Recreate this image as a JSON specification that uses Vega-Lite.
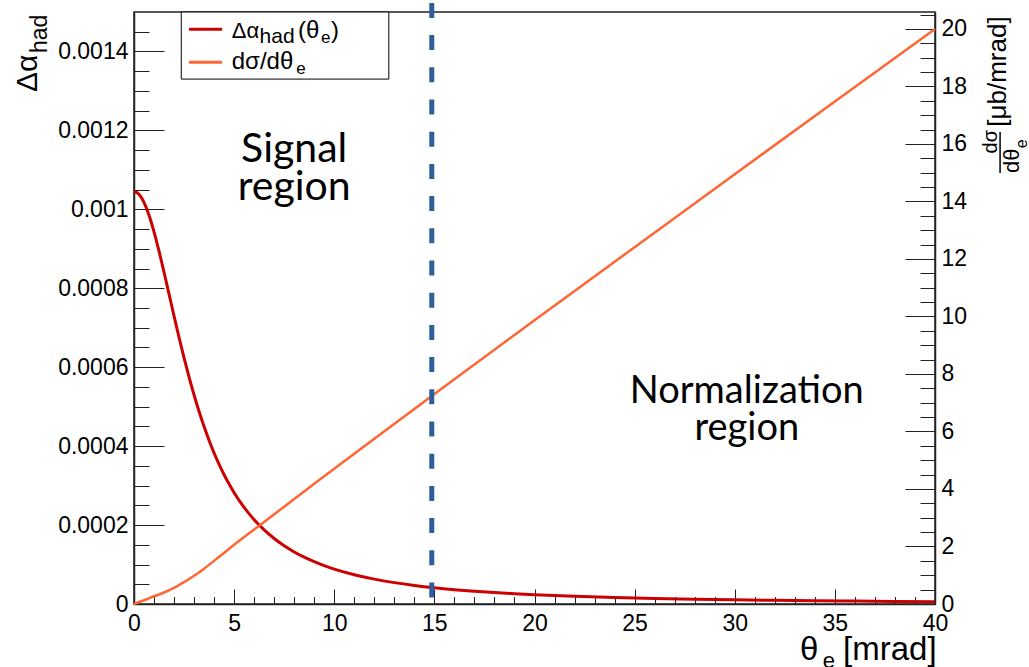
{
  "$schema": "https://vega.github.io/schema/vega-lite/v6.json",
  "width": 801,
  "height": 592,
  "autosize": {"type": "none"},
  "padding": {"left": 134, "top": 12, "right": 94, "bottom": 63},
  "background": "white",
  "config": {
    "view": {"stroke": "#222", "strokeWidth": 1.5},
    "font": "Liberation Sans",
    "axis": {"grid": false, "labelFont": "Liberation Sans", "labelFontSize": 23, "labelColor": "#000", "domainColor": "#222", "domainWidth": 1.5, "tickColor": "#222", "tickWidth": 1, "labelFlush": false, "labelOverlap": false}
  },
  "datasets": {
    "alpha": [
      {"theta": 0, "dalpha": 0.0010451}, {"theta": 0.25, "dalpha": 0.001038}, {"theta": 0.5, "dalpha": 0.0010175},
      {"theta": 0.75, "dalpha": 0.0009851}, {"theta": 1.0, "dalpha": 0.0009431}, {"theta": 1.25, "dalpha": 0.000894},
      {"theta": 1.5, "dalpha": 0.0008405}, {"theta": 1.75, "dalpha": 0.000785}, {"theta": 2.0, "dalpha": 0.0007295},
      {"theta": 2.25, "dalpha": 0.0006753}, {"theta": 2.5, "dalpha": 0.0006235}, {"theta": 2.75, "dalpha": 0.0005748},
      {"theta": 3.0, "dalpha": 0.0005296}, {"theta": 3.25, "dalpha": 0.0004878}, {"theta": 3.5, "dalpha": 0.0004495},
      {"theta": 3.75, "dalpha": 0.0004145}, {"theta": 4.0, "dalpha": 0.0003827}, {"theta": 4.25, "dalpha": 0.0003538},
      {"theta": 4.5, "dalpha": 0.0003276}, {"theta": 4.75, "dalpha": 0.0003038}, {"theta": 5.0, "dalpha": 0.0002821},
      {"theta": 5.5, "dalpha": 0.0002446}, {"theta": 6.0, "dalpha": 0.0002135}, {"theta": 6.5, "dalpha": 0.0001876},
      {"theta": 7.0, "dalpha": 0.0001659}, {"theta": 7.5, "dalpha": 0.0001475}, {"theta": 8.0, "dalpha": 0.0001319},
      {"theta": 8.5, "dalpha": 0.0001186}, {"theta": 9.0, "dalpha": 0.0001071}, {"theta": 9.5, "dalpha": 0.0000971},
      {"theta": 10, "dalpha": 0.0000884}, {"theta": 11, "dalpha": 0.0000742}, {"theta": 12, "dalpha": 0.000063},
      {"theta": 13, "dalpha": 0.0000542}, {"theta": 14, "dalpha": 0.0000471}, {"theta": 15, "dalpha": 0.0000412},
      {"theta": 16, "dalpha": 0.0000364}, {"theta": 17, "dalpha": 0.0000324}, {"theta": 18, "dalpha": 0.000029},
      {"theta": 19, "dalpha": 0.0000261}, {"theta": 20, "dalpha": 0.0000236}, {"theta": 22, "dalpha": 0.0000196},
      {"theta": 24, "dalpha": 0.0000165}, {"theta": 26, "dalpha": 0.0000141}, {"theta": 28, "dalpha": 0.0000122},
      {"theta": 30, "dalpha": 0.0000106}, {"theta": 32, "dalpha": 0.0000094}, {"theta": 34, "dalpha": 0.0000083},
      {"theta": 36, "dalpha": 0.0000074}, {"theta": 38, "dalpha": 0.0000066}, {"theta": 40, "dalpha": 0.000006}
    ],
    "sigma": [
      {"theta": 0, "dsigma": 0}, {"theta": 0.5, "dsigma": 0.13}, {"theta": 1.0, "dsigma": 0.27},
      {"theta": 1.5, "dsigma": 0.4}, {"theta": 2.0, "dsigma": 0.56}, {"theta": 2.5, "dsigma": 0.76},
      {"theta": 3.0, "dsigma": 0.98}, {"theta": 3.5, "dsigma": 1.23}, {"theta": 4.0, "dsigma": 1.5},
      {"theta": 4.5, "dsigma": 1.78}, {"theta": 5.0, "dsigma": 2.06}, {"theta": 6.0, "dsigma": 2.59},
      {"theta": 7.0, "dsigma": 3.12}, {"theta": 8.0, "dsigma": 3.65}, {"theta": 9.0, "dsigma": 4.18},
      {"theta": 10, "dsigma": 4.7}, {"theta": 12, "dsigma": 5.75}, {"theta": 15, "dsigma": 7.3},
      {"theta": 20, "dsigma": 9.87}, {"theta": 25, "dsigma": 12.41}, {"theta": 30, "dsigma": 14.95},
      {"theta": 35, "dsigma": 17.48}, {"theta": 40, "dsigma": 20.0}
    ]
  },
  "resolve": {"scale": {"y": "independent"}, "axis": {"x": "independent", "y": "independent"}},
  "layer": [
    {
      "data": {"name": "alpha"},
      "mark": {"type": "line", "color": "#cc0000", "strokeWidth": 3, "interpolate": "monotone"},
      "encoding": {
        "x": {"field": "theta", "type": "quantitative", "scale": {"domain": [0, 40], "nice": false, "zero": false},
          "axis": {"orient": "bottom", "values": [0, 5, 10, 15, 20, 25, 30, 35, 40], "tickSize": -15, "labelPadding": 23, "title": null}},
        "y": {"field": "dalpha", "type": "quantitative", "scale": {"domain": [0, 0.0015], "nice": false},
          "axis": {"orient": "left", "values": [0, 0.0002, 0.0004, 0.0006, 0.0008, 0.001, 0.0012, 0.0014], "tickSize": -30, "labelPadding": 36, "title": null,
            "labelExpr": "datum.value == 0 ? '0' : format(datum.value, '.4~f')"}}
      }
    },
    {
      "data": {"name": "alpha"},
      "mark": {"type": "line", "strokeOpacity": 0},
      "encoding": {
        "x": {"field": "theta", "type": "quantitative",
          "axis": {"orient": "bottom", "values": [0,1,2,3,4,5,6,7,8,9,10,11,12,13,14,15,16,17,18,19,20,21,22,23,24,25,26,27,28,29,30,31,32,33,34,35,36,37,38,39,40], "tickSize": -7.5, "labels": false, "domain": false, "title": null}},
        "y": {"field": "dalpha", "type": "quantitative", "scale": {"domain": [0, 0.0015], "nice": false},
          "axis": {"orient": "left", "values": [0,0.00005,0.0001,0.00015,0.0002,0.00025,0.0003,0.00035,0.0004,0.00045,0.0005,0.00055,0.0006,0.00065,0.0007,0.00075,0.0008,0.00085,0.0009,0.00095,0.001,0.00105,0.0011,0.00115,0.0012,0.00125,0.0013,0.00135,0.0014,0.00145], "tickSize": -15, "labels": false, "domain": false, "title": null}}
      }
    },
    {
      "data": {"name": "sigma"},
      "mark": {"type": "line", "color": "#ff6633", "strokeWidth": 2.5, "interpolate": "monotone"},
      "encoding": {
        "x": {"field": "theta", "type": "quantitative", "axis": null},
        "y": {"field": "dsigma", "type": "quantitative", "scale": {"domain": [0, 20.59], "nice": false},
          "axis": {"orient": "right", "values": [0, 2, 4, 6, 8, 10, 12, 14, 16, 18, 20], "tickSize": -30, "labelPadding": 36, "title": null}}
      }
    },
    {
      "data": {"name": "sigma"},
      "mark": {"type": "line", "strokeOpacity": 0},
      "encoding": {
        "x": {"field": "theta", "type": "quantitative", "axis": null},
        "y": {"field": "dsigma", "type": "quantitative", "scale": {"domain": [0, 20.59], "nice": false},
          "axis": {"orient": "right", "values": [0,0.5,1,1.5,2,2.5,3,3.5,4,4.5,5,5.5,6,6.5,7,7.5,8,8.5,9,9.5,10,10.5,11,11.5,12,12.5,13,13.5,14,14.5,15,15.5,16,16.5,17,17.5,18,18.5,19,19.5,20,20.5], "tickSize": -15, "labels": false, "domain": false, "title": null}}
      }
    },
    {
      "data": {"values": [{}]},
      "mark": {"type": "rule", "color": "#2f5f9a", "strokeWidth": 5, "strokeDash": [15, 17.2]},
      "encoding": {
        "x": {"datum": 14.87, "type": "quantitative", "axis": null},
        "y": {"datum": 0.001523, "type": "quantitative", "scale": {"domain": [0, 0.0015], "nice": false}, "axis": null},
        "y2": {"datum": 0}
      }
    },
    {
      "data": {"values": [{}]},
      "mark": {"type": "text", "text": ["Signal", "region"], "font": "Lato", "fontSize": 41, "align": "center", "baseline": "alphabetic", "lineHeight": 38.5, "color": "#000"},
      "encoding": {
        "x": {"datum": 8.0, "type": "quantitative", "axis": null},
        "y": {"datum": 0.0011207, "type": "quantitative", "scale": {"domain": [0, 0.0015], "nice": false}, "axis": null}
      }
    },
    {
      "data": {"values": [{}]},
      "mark": {"type": "text", "text": ["Normalization", "region"], "font": "Lato", "fontSize": 38, "align": "center", "baseline": "alphabetic", "lineHeight": 37, "color": "#000"},
      "encoding": {
        "x": {"datum": 30.6, "type": "quantitative", "axis": null},
        "y": {"datum": 0.000509, "type": "quantitative", "scale": {"domain": [0, 0.0015], "nice": false}, "axis": null}
      }
    },
    {
      "data": {"values": [{}]},
      "mark": {"type": "rect", "fill": "white", "stroke": "#000", "strokeWidth": 1},
      "encoding": {
        "x": {"datum": 2.36, "type": "quantitative", "axis": null},
        "x2": {"datum": 12.725},
        "y": {"datum": 0.0015, "type": "quantitative", "scale": {"domain": [0, 0.0015], "nice": false}, "axis": null},
        "y2": {"datum": 0.00133}
      }
    },
    {
      "data": {"values": [{}]},
      "mark": {"type": "rule", "color": "#cc0000", "strokeWidth": 3},
      "encoding": {
        "x": {"datum": 2.75, "type": "quantitative", "axis": null},
        "x2": {"datum": 4.4},
        "y": {"datum": 0.0014562, "type": "quantitative", "scale": {"domain": [0, 0.0015], "nice": false}, "axis": null}
      }
    },
    {
      "data": {"values": [{}]},
      "mark": {"type": "rule", "color": "#ff6633", "strokeWidth": 3},
      "encoding": {
        "x": {"datum": 2.75, "type": "quantitative", "axis": null},
        "x2": {"datum": 4.4},
        "y": {"datum": 0.0013725, "type": "quantitative", "scale": {"domain": [0, 0.0015], "nice": false}, "axis": null}
      }
    },
    {
      "data": {"values": [{}]},
      "mark": {"type": "text", "text": "Δα", "fontSize": 22, "align": "left", "baseline": "alphabetic", "color": "#000"},
      "encoding": {
        "x": {"datum": 4.88, "type": "quantitative", "axis": null},
        "y": {"datum": 0.0014349, "type": "quantitative", "scale": {"domain": [0, 0.0015], "nice": false}, "axis": null}
      }
    },
    {
      "data": {"values": [{}]},
      "mark": {"type": "text", "text": "had", "fontSize": 21, "align": "left", "baseline": "alphabetic", "color": "#000"},
      "encoding": {
        "x": {"datum": 6.27, "type": "quantitative", "axis": null},
        "y": {"datum": 0.0014207, "type": "quantitative", "scale": {"domain": [0, 0.0015], "nice": false}, "axis": null}
      }
    },
    {
      "data": {"values": [{}]},
      "mark": {"type": "text", "text": "(θ", "fontSize": 24, "align": "left", "baseline": "alphabetic", "color": "#000"},
      "encoding": {
        "x": {"datum": 8.19, "type": "quantitative", "axis": null},
        "y": {"datum": 0.0014349, "type": "quantitative", "scale": {"domain": [0, 0.0015], "nice": false}, "axis": null}
      }
    },
    {
      "data": {"values": [{}]},
      "mark": {"type": "text", "text": "e", "fontSize": 17, "align": "left", "baseline": "alphabetic", "color": "#000"},
      "encoding": {
        "x": {"datum": 9.34, "type": "quantitative", "axis": null},
        "y": {"datum": 0.0014207, "type": "quantitative", "scale": {"domain": [0, 0.0015], "nice": false}, "axis": null}
      }
    },
    {
      "data": {"values": [{}]},
      "mark": {"type": "text", "text": ")", "fontSize": 24, "align": "left", "baseline": "alphabetic", "color": "#000"},
      "encoding": {
        "x": {"datum": 9.84, "type": "quantitative", "axis": null},
        "y": {"datum": 0.0014349, "type": "quantitative", "scale": {"domain": [0, 0.0015], "nice": false}, "axis": null}
      }
    },
    {
      "data": {"values": [{}]},
      "mark": {"type": "text", "text": "dσ/dθ", "fontSize": 24, "align": "left", "baseline": "alphabetic", "color": "#000"},
      "encoding": {
        "x": {"datum": 4.88, "type": "quantitative", "axis": null},
        "y": {"datum": 0.0013568, "type": "quantitative", "scale": {"domain": [0, 0.0015], "nice": false}, "axis": null}
      }
    },
    {
      "data": {"values": [{}]},
      "mark": {"type": "text", "text": "e", "fontSize": 17, "align": "left", "baseline": "alphabetic", "color": "#000"},
      "encoding": {
        "x": {"datum": 8.1, "type": "quantitative", "axis": null},
        "y": {"datum": 0.0013429, "type": "quantitative", "scale": {"domain": [0, 0.0015], "nice": false}, "axis": null}
      }
    },
    {
      "data": {"values": [{}]},
      "mark": {"type": "text", "text": "Δα", "fontSize": 30, "angle": 270, "align": "left", "baseline": "alphabetic", "color": "#000"},
      "encoding": {
        "x": {"datum": -4.85, "type": "quantitative", "axis": null},
        "y": {"datum": 0.0012973, "type": "quantitative", "scale": {"domain": [0, 0.0015], "nice": false}, "axis": null}
      }
    },
    {
      "data": {"values": [{}]},
      "mark": {"type": "text", "text": "had", "fontSize": 23, "angle": 270, "align": "left", "baseline": "alphabetic", "color": "#000"},
      "encoding": {
        "x": {"datum": -4.35, "type": "quantitative", "axis": null},
        "y": {"datum": 0.0013961, "type": "quantitative", "scale": {"domain": [0, 0.0015], "nice": false}, "axis": null}
      }
    },
    {
      "data": {"values": [{}]},
      "mark": {"type": "text", "text": "θ", "fontSize": 33, "align": "left", "baseline": "alphabetic", "color": "#000"},
      "encoding": {
        "x": {"datum": 33.26, "type": "quantitative", "axis": null},
        "y": {"datum": -0.0001419, "type": "quantitative", "scale": {"domain": [0, 0.0015], "nice": false}, "axis": null}
      }
    },
    {
      "data": {"values": [{}]},
      "mark": {"type": "text", "text": "e", "fontSize": 22, "align": "left", "baseline": "alphabetic", "color": "#000"},
      "encoding": {
        "x": {"datum": 34.4, "type": "quantitative", "axis": null},
        "y": {"datum": -0.000162, "type": "quantitative", "scale": {"domain": [0, 0.0015], "nice": false}, "axis": null}
      }
    },
    {
      "data": {"values": [{}]},
      "mark": {"type": "text", "text": "[mrad]", "fontSize": 33, "align": "left", "baseline": "alphabetic", "color": "#000"},
      "encoding": {
        "x": {"datum": 35.41, "type": "quantitative", "axis": null},
        "y": {"datum": -0.0001419, "type": "quantitative", "scale": {"domain": [0, 0.0015], "nice": false}, "axis": null}
      }
    },
    {
      "data": {"values": [{}]},
      "mark": {"type": "text", "text": "[μb/mrad]", "fontSize": 26, "angle": 270, "align": "left", "baseline": "alphabetic", "color": "#000"},
      "encoding": {
        "x": {"datum": 43.55, "type": "quantitative", "axis": null},
        "y": {"datum": 16.6, "type": "quantitative", "scale": {"domain": [0, 20.59], "nice": false}, "axis": null}
      }
    },
    {
      "data": {"values": [{}]},
      "mark": {"type": "text", "text": "dσ", "fontSize": 20, "angle": 270, "align": "left", "baseline": "alphabetic", "color": "#000"},
      "encoding": {
        "x": {"datum": 43.1, "type": "quantitative", "axis": null},
        "y": {"datum": 15.67, "type": "quantitative", "scale": {"domain": [0, 20.59], "nice": false}, "axis": null}
      }
    },
    {
      "data": {"values": [{}]},
      "mark": {"type": "rule", "color": "#000", "strokeWidth": 1.5},
      "encoding": {
        "x": {"datum": 43.25, "type": "quantitative", "axis": null},
        "y": {"datum": 14.99, "type": "quantitative", "scale": {"domain": [0, 20.59], "nice": false}, "axis": null},
        "y2": {"datum": 16.416}
      }
    },
    {
      "data": {"values": [{}]},
      "mark": {"type": "text", "text": "dθ", "fontSize": 22, "angle": 270, "align": "left", "baseline": "alphabetic", "color": "#000"},
      "encoding": {
        "x": {"datum": 44.2, "type": "quantitative", "axis": null},
        "y": {"datum": 14.99, "type": "quantitative", "scale": {"domain": [0, 20.59], "nice": false}, "axis": null}
      }
    },
    {
      "data": {"values": [{}]},
      "mark": {"type": "text", "text": "e", "fontSize": 16, "angle": 270, "align": "left", "baseline": "alphabetic", "color": "#000"},
      "encoding": {
        "x": {"datum": 44.6, "type": "quantitative", "axis": null},
        "y": {"datum": 15.85, "type": "quantitative", "scale": {"domain": [0, 20.59], "nice": false}, "axis": null}
      }
    }
  ]
}
